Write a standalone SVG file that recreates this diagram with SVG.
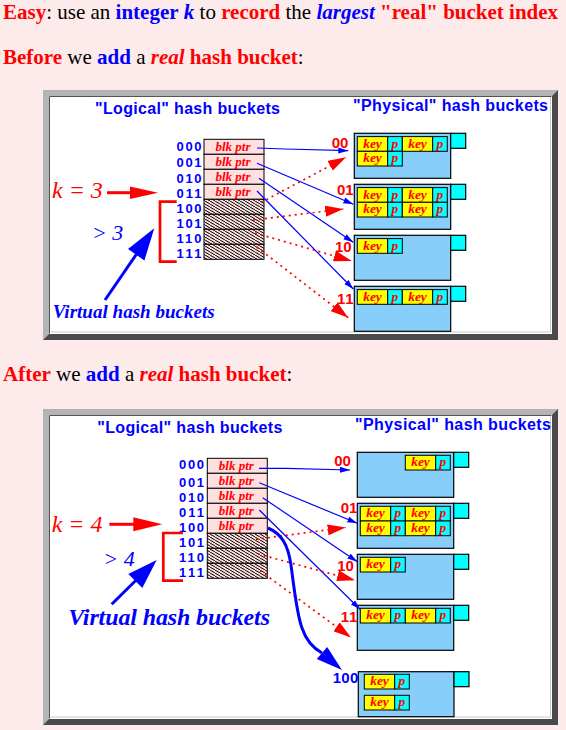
<svg xmlns="http://www.w3.org/2000/svg" xmlns:xlink="http://www.w3.org/1999/xlink" width="566" height="730" viewBox="0 0 566 730">
<style>
.hdr{font-family:"Liberation Serif","Times New Roman",serif;font-size:21px;fill:#000}
.b{font-weight:bold}
.r{fill:#ff0000}
.bl{fill:#0000ff}
.it{font-style:italic}
.ttl{font-family:"Liberation Sans",Arial,sans-serif;font-weight:bold;font-size:16px;fill:#0000ff}
.idx{font-family:"Liberation Sans",Arial,sans-serif;font-weight:bold;font-size:13px;fill:#0000ff}
.bk{font-family:"Liberation Sans",Arial,sans-serif;font-weight:bold;font-size:15px;fill:#ff0000}
.big{font-family:"Liberation Serif","Times New Roman",serif;font-style:italic}
.cell{fill:#ffe0e0;stroke:#000;stroke-width:1}
.hat{fill:url(#hatch);stroke:#000;stroke-width:1}
.blk{font-family:"Liberation Serif","Times New Roman",serif;font-style:italic;font-weight:bold;font-size:13px;fill:#ff0000;text-anchor:middle}
.bucket{fill:#87cefa;stroke:#000;stroke-width:1.2}
.sq{fill:#00ffff;stroke:#000;stroke-width:1.2}
.key{fill:#ffff00;stroke:#000;stroke-width:1}
.pp{fill:#00ffff;stroke:#000;stroke-width:1}
.kt{font-family:"Liberation Serif","Times New Roman",serif;font-style:italic;font-weight:bold;font-size:13.5px;fill:#ff0000;text-anchor:middle}
.sol{stroke:#0000ff;stroke-width:1.2;fill:none;marker-end:url(#ab)}
.dot{stroke:#ff0000;stroke-width:1.7;stroke-dasharray:2 4;fill:none;marker-end:url(#ar)}
.brk{stroke:#ff0000;stroke-width:2.7;fill:none}
</style>
<defs>
<pattern id="hatch" patternUnits="userSpaceOnUse" width="5" height="3">
<rect width="5" height="3" fill="#f8dcdc"/>
<path d="M-5,-3 L10,6" stroke="#000" stroke-width="1"/>
</pattern>
<marker id="ab" markerUnits="userSpaceOnUse" markerWidth="11" markerHeight="7" refX="10" refY="3.5" orient="auto"><path d="M0,0.5 L10,3.5 L0,6.5 z" fill="#0000ff"/></marker>
<marker id="ar" markerUnits="userSpaceOnUse" markerWidth="19" markerHeight="11" refX="18" refY="5.5" orient="auto"><path d="M0,0 L18,5.5 L0,11 z" fill="#ff0000"/></marker>
<g id="ent">
<rect class="key" x="0" y="0" width="30.4" height="14.7"/>
<rect class="pp" x="30.4" y="0" width="14.6" height="14.7"/>
<text class="kt" x="15.2" y="11">key</text>
<text class="kt" x="37.7" y="11">p</text>
</g>
</defs>
<rect width="566" height="730" fill="#fdebeb"/>

<g id="header">
<text class="hdr" x="3" y="19"><tspan class="b r">Easy</tspan>: use an <tspan class="b bl">integer</tspan> <tspan class="b bl it">k</tspan> to <tspan class="b r">record</tspan> the <tspan class="b bl it">largest</tspan> <tspan class="b r">"real" bucket index</tspan></text>
<text class="hdr" x="3" y="64"><tspan class="b r">Before</tspan> we <tspan class="b bl">add</tspan> a <tspan class="b r it">real</tspan> <tspan class="b r">hash bucket</tspan>:</text>
<text class="hdr" x="3" y="381"><tspan class="b r">After</tspan> we <tspan class="b bl">add</tspan> a <tspan class="b r it">real</tspan> <tspan class="b r">hash bucket</tspan>:</text>
</g>

<!-- ============ TOP DIAGRAM ============ -->
<g id="frame1">
<rect x="43" y="90" width="515" height="250" fill="#b4b4b4"/>
<polygon points="558,90 558,340 43,340 49,334 552,334 552,96" fill="#4a4a4a"/>
<rect x="49" y="96" width="503" height="238" fill="#ffffff"/>
<polyline points="49.5,333.5 49.5,96.5 551.5,96.5" fill="none" stroke="#5a5050" stroke-width="1"/>
<polyline points="50.5,332 550.5,332 550.5,97" fill="none" stroke="#c8c8c8" stroke-width="1"/>
<text class="ttl" x="95" y="114" textLength="185" lengthAdjust="spacing">"Logical" hash buckets</text>
<text class="ttl" x="353" y="111" textLength="195" lengthAdjust="spacing">"Physical" hash buckets</text>
</g>

<g id="table1">
<rect class="cell" x="204" y="139.3" width="60" height="15"/>
<rect class="cell" x="204" y="154.3" width="60" height="15"/>
<rect class="cell" x="204" y="169.3" width="60" height="15"/>
<rect class="cell" x="204" y="184.3" width="60" height="15"/>
<rect class="hat" x="204" y="199.3" width="60" height="15"/>
<rect class="hat" x="204" y="214.3" width="60" height="15"/>
<rect class="hat" x="204" y="229.3" width="60" height="15"/>
<rect class="hat" x="204" y="244.3" width="60" height="15"/>
<text class="blk" x="233" y="150.5">blk ptr</text>
<text class="blk" x="233" y="165.5">blk ptr</text>
<text class="blk" x="233" y="180.5">blk ptr</text>
<text class="blk" x="233" y="195.5">blk ptr</text>
<text class="idx" x="176.5" y="150.5" textLength="25">000</text>
<text class="idx" x="176.5" y="167" textLength="25">001</text>
<text class="idx" x="176.5" y="182.5" textLength="25">010</text>
<text class="idx" x="176.5" y="197.5" textLength="25">011</text>
<text class="idx" x="176.5" y="212.5" textLength="25">100</text>
<text class="idx" x="176.5" y="227.5" textLength="25">101</text>
<text class="idx" x="176.5" y="242.5" textLength="25">110</text>
<text class="idx" x="176.5" y="257.5" textLength="25">111</text>
</g>

<g id="k3">
<text class="big r" x="52" y="198" font-size="24">k = 3</text>
<line x1="107" y1="192.7" x2="132" y2="192.7" stroke="#ff0000" stroke-width="3"/>
<polygon points="130,186.5 158,192.7 130,199" fill="#ff0000"/>
</g>
<g id="virtual1">
<polyline class="brk" points="176.7,201.7 160,201.7 160,261.7 176.7,261.7"/>
<text class="big bl" x="92" y="240" font-size="22">&gt; 3</text>
<line x1="105" y1="300" x2="137" y2="253.5" stroke="#0000ff" stroke-width="3"/>
<polygon points="154.3,228.3 144.4,260.4 128,249" fill="#0000ff"/>
<text class="big bl b" x="52.7" y="318" font-size="19" textLength="162">Virtual hash buckets</text>
</g>

<g id="pb1-00" transform="translate(354.3,133.3)">
<rect class="bucket" x="0" y="0" width="96.4" height="45"/>
<rect class="sq" x="96.4" y="0" width="15" height="15"/>
<use xlink:href="#ent" x="3" y="3.3"/>
<use xlink:href="#ent" x="48" y="3.3"/>
<use xlink:href="#ent" x="3" y="18"/>
</g>
<g id="pb1-01" transform="translate(354.3,184.3)">
<rect class="bucket" x="0" y="0" width="96.4" height="45"/>
<rect class="sq" x="96.4" y="0" width="15" height="15"/>
<use xlink:href="#ent" x="3" y="3.3"/>
<use xlink:href="#ent" x="48" y="3.3"/>
<use xlink:href="#ent" x="3" y="18"/>
<use xlink:href="#ent" x="48" y="18"/>
</g>
<g id="pb1-10" transform="translate(354.3,235.3)">
<rect class="bucket" x="0" y="0" width="96.4" height="45"/>
<rect class="sq" x="96.4" y="0" width="15" height="15"/>
<use xlink:href="#ent" x="3" y="3.3"/>
</g>
<g id="pb1-11" transform="translate(354.3,286.3)">
<rect class="bucket" x="0" y="0" width="96.4" height="45"/>
<rect class="sq" x="96.4" y="0" width="15" height="15"/>
<use xlink:href="#ent" x="3" y="3.3"/>
<use xlink:href="#ent" x="48" y="3.3"/>
</g>
<g id="labels1">
<text class="bk" x="331.7" y="148" textLength="16.6">00</text>
<text class="bk" x="337" y="195" textLength="16.6">01</text>
<text class="bk" x="335" y="252" textLength="16.6">10</text>
<text class="bk" x="337" y="303.5" textLength="16.6">11</text>
</g>

<g id="connectors1">
<polyline class="sol" points="257,148 285,149 348.3,150.7"/>
<line class="sol" x1="257" y1="163.3" x2="353.3" y2="204.3"/>
<line class="sol" x1="259" y1="178.3" x2="353.3" y2="242.3"/>
<line class="sol" x1="257" y1="191" x2="353.3" y2="289"/>
<line class="dot" x1="261" y1="202.5" x2="346" y2="157.3"/>
<line class="dot" x1="253" y1="220" x2="343.3" y2="209"/>
<line class="dot" x1="255" y1="233" x2="351.7" y2="261"/>
<line class="dot" x1="256.7" y1="247" x2="348.3" y2="317.7"/>
</g>

<!-- ============ BOTTOM DIAGRAM ============ -->
<g id="frame2">
<rect x="43" y="409" width="515" height="316" fill="#b4b4b4"/>
<polygon points="558,409 558,725 43,725 49,719 552,719 552,415" fill="#4a4a4a"/>
<rect x="49" y="415" width="503" height="304" fill="#ffffff"/>
<polyline points="49.5,718.5 49.5,415.5 551.5,415.5" fill="none" stroke="#5a5050" stroke-width="1"/>
<polyline points="50.5,717 550.5,717 550.5,416" fill="none" stroke="#c8c8c8" stroke-width="1"/>
<text class="ttl" x="97.3" y="432.7" textLength="185" lengthAdjust="spacing">"Logical" hash buckets</text>
<text class="ttl" x="355" y="430" textLength="196" lengthAdjust="spacing">"Physical" hash buckets</text>
</g>

<g id="table2">
<rect class="cell" x="207.3" y="458.3" width="60" height="15"/>
<rect class="cell" x="207.3" y="473.3" width="60" height="15"/>
<rect class="cell" x="207.3" y="488.3" width="60" height="15"/>
<rect class="cell" x="207.3" y="503.3" width="60" height="15"/>
<rect class="cell" x="207.3" y="518.3" width="60" height="15"/>
<rect class="hat" x="207.3" y="533.3" width="60" height="15"/>
<rect class="hat" x="207.3" y="548.3" width="60" height="15"/>
<rect class="hat" x="207.3" y="563.3" width="60" height="15"/>
<text class="blk" x="236.3" y="469.5">blk ptr</text>
<text class="blk" x="236.3" y="484.5">blk ptr</text>
<text class="blk" x="236.3" y="499.5">blk ptr</text>
<text class="blk" x="236.3" y="514.5">blk ptr</text>
<text class="blk" x="236.3" y="529.5">blk ptr</text>
<text class="idx" x="179" y="469" textLength="25">000</text>
<text class="idx" x="179" y="487.3" textLength="25">001</text>
<text class="idx" x="179" y="502.3" textLength="25">010</text>
<text class="idx" x="179" y="517.3" textLength="25">011</text>
<text class="idx" x="179" y="532.3" textLength="25">100</text>
<text class="idx" x="179" y="547.3" textLength="25">101</text>
<text class="idx" x="179" y="562.3" textLength="25">110</text>
<text class="idx" x="179" y="577.3" textLength="25">111</text>
</g>

<g id="k4">
<text class="big r" x="51.7" y="531.7" font-size="24">k = 4</text>
<line x1="109.3" y1="524.3" x2="135" y2="524.3" stroke="#ff0000" stroke-width="3"/>
<polygon points="133.3,517.3 162.3,524.3 133.3,531.3" fill="#ff0000"/>
</g>
<g id="virtual2">
<polyline class="brk" points="183,533 163.3,533 163.3,580.7 183,580.7"/>
<text class="big bl" x="103.3" y="566" font-size="22">&gt; 4</text>
<line x1="111.7" y1="604.3" x2="136" y2="580.3" stroke="#0000ff" stroke-width="3"/>
<polygon points="156.7,560 142.3,588.1 128.3,573.9" fill="#0000ff"/>
<text class="big bl b" x="68.3" y="625" font-size="24" textLength="201.7">Virtual hash buckets</text>
</g>

<g id="pb2-00" transform="translate(357.3,452.3)">
<rect class="bucket" x="0" y="0" width="96.4" height="45"/>
<rect class="sq" x="96.4" y="0" width="15" height="15"/>
<use xlink:href="#ent" x="48" y="3"/>
</g>
<g id="pb2-01" transform="translate(357.3,503.3)">
<rect class="bucket" x="0" y="0" width="96.4" height="45"/>
<rect class="sq" x="96.4" y="0" width="15" height="15"/>
<use xlink:href="#ent" x="3" y="3"/>
<use xlink:href="#ent" x="48" y="3"/>
<use xlink:href="#ent" x="3" y="17.7"/>
<use xlink:href="#ent" x="48" y="17.7"/>
</g>
<g id="pb2-10" transform="translate(357.3,554.3)">
<rect class="bucket" x="0" y="0" width="96.4" height="45"/>
<rect class="sq" x="96.4" y="0" width="15" height="15"/>
<use xlink:href="#ent" x="3" y="3"/>
</g>
<g id="pb2-11" transform="translate(357.3,605.3)">
<rect class="bucket" x="0" y="0" width="96.4" height="45"/>
<rect class="sq" x="96.4" y="0" width="15" height="15"/>
<use xlink:href="#ent" x="3" y="3"/>
<use xlink:href="#ent" x="48" y="3"/>
</g>
<g id="pb2-100" transform="translate(358.3,671.7)">
<rect class="bucket" x="0" y="0" width="95.7" height="45"/>
<rect class="sq" x="95.7" y="0" width="15" height="15"/>
<use xlink:href="#ent" x="6" y="2.6"/>
<use xlink:href="#ent" x="6" y="23.6"/>
</g>
<g id="labels2">
<text class="bk" x="334.3" y="465.7" textLength="16.6">00</text>
<text class="bk" x="340.7" y="513.3" textLength="16.6">01</text>
<text class="bk" x="337.3" y="571" textLength="16.6">10</text>
<text class="bk" x="340.7" y="622.3" textLength="16.6">11</text>
<text class="bk" x="332.7" y="682.7" textLength="25.6" style="fill:#0000ff">100</text>
</g>

<g id="connectors2">
<polyline class="sol" points="259,468.3 286.7,468.3 350,470"/>
<line class="sol" x1="259.3" y1="482.7" x2="357.3" y2="523.3"/>
<line class="sol" x1="262.7" y1="497.7" x2="357.3" y2="561.7"/>
<line class="sol" x1="259.3" y1="510" x2="360" y2="609.3"/>
<line class="dot" x1="256" y1="539.3" x2="345.7" y2="527.5"/>
<line class="dot" x1="258" y1="554" x2="355" y2="580.3"/>
<line class="dot" x1="260" y1="570.7" x2="351" y2="637.5"/>
<path d="M268,528 C282,534 288,545 291,565 C295,595 297,615 302,628 C306,640 313,648 322,653" fill="none" stroke="#0000ff" stroke-width="3"/>
<polygon points="342,670 327.2,646.9 316.8,659.1" fill="#0000ff"/>
</g>
</svg>
